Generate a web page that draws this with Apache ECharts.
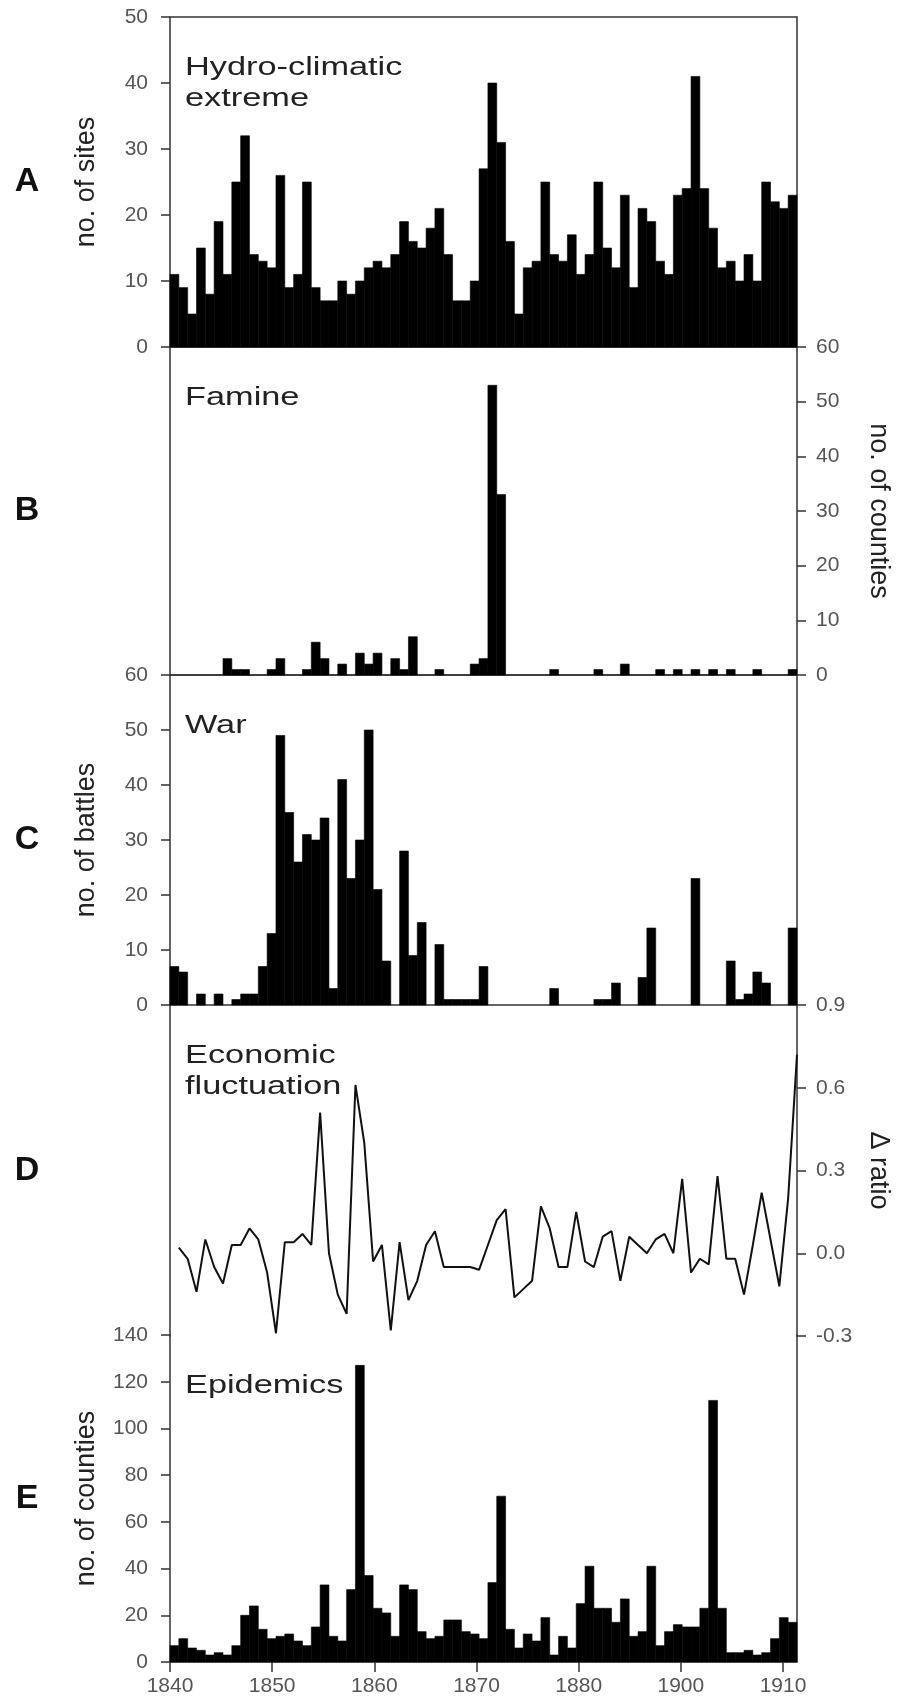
<!DOCTYPE html>
<html>
<head>
<meta charset="utf-8">
<title>Hydro-climatic extremes, famine, war, economy and epidemics, 1840-1910</title>
<script src="https://cdn.jsdelivr.net/npm/echarts@6.0.0/dist/echarts.min.js"></script>
<style>
  html, body { margin: 0; padding: 0; background: #fff; }
  #main { width: 910px; height: 1705px; }
</style>
</head>
<body>
<div id="main"></div>
<script>
// one bar per year, 1840 .. 1910; each bar spans [year, year + 1]
var startYear = 1840;
var endYear = 1911;

// A: no. of sites with hydro-climatic extremes
var hydro = [11, 9, 5, 15, 8, 19, 11, 25, 32, 14,
             13, 12, 26, 9, 11, 25, 9, 7, 7, 10,
             8, 10, 12, 13, 12, 14, 19, 16, 15, 18,
             21, 14, 7, 7, 10, 27, 40, 31, 16, 5,
             12, 13, 25, 14, 13, 17, 11, 14, 25, 15,
             12, 23, 9, 21, 19, 13, 11, 23, 24, 41,
             24, 18, 12, 13, 10, 14, 10, 25, 22, 21,
             23];
// B: no. of counties with famine
var famine = [0, 0, 0, 0, 0, 0, 3, 1, 1, 0,
              0, 1, 3, 0, 0, 1, 6, 3, 0, 2,
              0, 4, 2, 4, 0, 3, 1, 7, 0, 0,
              1, 0, 0, 0, 2, 3, 53, 33, 0, 0,
              0, 0, 0, 1, 0, 0, 0, 0, 1, 0,
              0, 2, 0, 0, 0, 1, 0, 1, 0, 1,
              0, 1, 0, 1, 0, 0, 1, 0, 0, 0,
              1];
// C: no. of battles
var war = [7, 6, 0, 2, 0, 2, 0, 1, 2, 2,
           7, 13, 49, 35, 26, 31, 30, 34, 3, 41,
           23, 30, 50, 21, 8, 0, 28, 9, 15, 0,
           11, 1, 1, 1, 1, 7, 0, 0, 0, 0,
           0, 0, 0, 3, 0, 0, 0, 0, 1, 1,
           4, 0, 0, 5, 14, 0, 0, 0, 0, 23,
           0, 0, 0, 8, 1, 2, 6, 4, 0, 0,
           14];
// D: economic fluctuation (delta ratio), one point per year from 1841 to 1911
var econ = [0.02, -0.02, -0.14, 0.05, -0.05, -0.11, 0.03, 0.03, 0.09, 0.05,
            -0.07, -0.29, 0.04, 0.04, 0.07, 0.03, 0.51, 0.00, -0.15, -0.22,
            0.61, 0.40, -0.03, 0.03, -0.28, 0.04, -0.17, -0.10, 0.03, 0.08,
            -0.05, -0.05, -0.05, -0.05, -0.06, 0.03, 0.12, 0.16, -0.16, -0.13,
            -0.10, 0.17, 0.09, -0.05, -0.05, 0.15, -0.03, -0.05, 0.06, 0.08,
            -0.10, 0.06, 0.03, 0.00, 0.05, 0.07, 0.00, 0.27, -0.07, -0.02,
            -0.04, 0.28, -0.02, -0.02, -0.15, 0.03, 0.22, 0.05, -0.12, 0.20,
            0.72];
// E: no. of counties with epidemics
var epidemic = [7, 10, 6, 5, 3, 4, 3, 7, 20, 24,
                14, 10, 11, 12, 9, 7, 15, 33, 11, 9,
                31, 127, 37, 23, 21, 11, 33, 31, 13, 10,
                11, 18, 18, 13, 12, 10, 34, 71, 14, 6,
                12, 9, 19, 3, 11, 6, 25, 41, 23, 23,
                17, 27, 11, 13, 41, 7, 13, 16, 15, 15,
                23, 112, 23, 4, 4, 5, 3, 4, 10, 19,
                17];

// printed tick labels of the time axis, and their spacing in bar widths
var tickLabels = ['1840', '1850', '1860', '1870', '1880', '1900', '1910'];
var tickStep = 11.57;

var years = [];
for (var y = startYear; y < endYear; y++) years.push(y);

function pairs(xs, vals) {
    return vals.map(function (v, i) { return [xs[i], v]; });
}
var econYears = years.map(function (y) { return y + 1; });
var tickValues = tickLabels.map(function (t, i) { return startYear + i * tickStep; });

// layout of the five stacked panels
var gridTops = [17, 347, 675, 1005, 1335];
var gridHeights = [330, 328, 330, 331, 327];
var panelLetters = ['A', 'B', 'C', 'D', 'E'];
var panelTitles = ['Hydro-climatic\nextreme', 'Famine', 'War', 'Economic\nfluctuation', 'Epidemics'];

var font = '"Liberation Sans", Arial, Helvetica, sans-serif';
var lineColor = '#333';
var labelStyle = {color: '#555', fontSize: 21, fontFamily: font};
var nameStyle = {color: '#222', fontSize: 27, fontFamily: font};
var tickLine = {color: lineColor, width: 1.5};

var chart = echarts.init(document.getElementById('main'));

// yearly bar drawn from the axis scales
function barItem(params, api) {
    var v = api.value(1);
    if (!v) return null;
    var base = api.coord([api.value(0), 0]);
    var top = api.coord([api.value(0) + 1, v]);
    return {
        type: 'rect',
        shape: {x: base[0], y: top[1], width: top[0] - base[0], height: base[1] - top[1]},
        style: {fill: '#000', stroke: '#000', lineWidth: 0.6}
    };
}

function hiddenX(gi) {
    return {type: 'value', gridIndex: gi, min: startYear, max: endYear, show: false};
}

function valueAxis(gi, pos, min, max, interval, name, extra) {
    var ax = {
        type: 'value', gridIndex: gi, position: pos,
        min: min, max: max, interval: interval,
        name: name, nameLocation: 'middle',
        nameGap: pos === 'left' ? 70 : 68,
        nameRotate: pos === 'left' ? 90 : -90,
        nameTextStyle: nameStyle,
        axisLine: {show: false, lineStyle: tickLine},
        axisTick: {show: true, length: 9, lineStyle: tickLine},
        axisLabel: Object.assign({margin: pos === 'left' ? 22 : 19}, labelStyle),
        splitLine: {show: false}
    };
    return Object.assign(ax, extra || {});
}

function lineOnly(gi, pos) {
    return {
        type: 'value', gridIndex: gi, position: pos, min: 0, max: 1,
        axisLine: {show: true, lineStyle: tickLine},
        axisTick: {show: false}, axisLabel: {show: false}, splitLine: {show: false}
    };
}

var graphics = [];
gridTops.forEach(function (top, i) {
    graphics.push({
        type: 'text', x: 27, y: top + gridHeights[i] / 2,
        style: {text: panelLetters[i], font: 'bold 34px ' + font, fill: '#111',
                align: 'center', verticalAlign: 'middle'}
    });
    graphics.push({
        type: 'text', x: 185, y: top + 35, scaleX: 1.32,
        style: {text: panelTitles[i], font: '26px ' + font, fill: '#222',
                lineHeight: 31, verticalAlign: 'top'}
    });
});

var option = {
    animation: false,
    backgroundColor: '#fff',
    grid: gridTops.map(function (top, i) {
        return {
            left: 170, width: 627, top: top, height: gridHeights[i],
            show: i < 3, borderColor: lineColor, borderWidth: 1.5,
            backgroundColor: 'transparent'
        };
    }),
    xAxis: [hiddenX(0), hiddenX(1), hiddenX(2), hiddenX(3), {
        type: 'value', gridIndex: 4, position: 'bottom',
        min: startYear, max: endYear,
        axisLine: {show: true, onZero: false, lineStyle: tickLine},
        axisTick: {show: true, length: 10, customValues: tickValues, lineStyle: tickLine},
        axisLabel: Object.assign({
            margin: 14,
            customValues: tickValues,
            formatter: function (v) {
                return tickLabels[Math.round((v - startYear) / tickStep)] || '';
            }
        }, labelStyle),
        splitLine: {show: false}
    }],
    yAxis: [
        valueAxis(0, 'left', 0, 50, 10, 'no. of sites'),
        valueAxis(1, 'right', 0, 60, 10, 'no. of counties'),
        valueAxis(2, 'left', 0, 60, 10, 'no. of battles'),
        valueAxis(3, 'right', -0.3, 0.9, 0.3, 'Δ ratio', {
            axisLine: {show: true, onZero: false, lineStyle: tickLine},
            axisLabel: Object.assign({margin: 19, formatter: function (v) { return v.toFixed(1); }}, labelStyle)
        }),
        lineOnly(3, 'left'),
        valueAxis(4, 'left', 0, 140, 20, 'no. of counties', {
            axisLine: {show: true, onZero: false, lineStyle: tickLine}
        }),
        lineOnly(4, 'right')
    ],
    graphic: graphics,
    series: [
        {type: 'custom', name: 'Hydro-climatic extreme', xAxisIndex: 0, yAxisIndex: 0,
         renderItem: barItem, data: pairs(years, hydro)},
        {type: 'custom', name: 'Famine', xAxisIndex: 1, yAxisIndex: 1,
         renderItem: barItem, data: pairs(years, famine)},
        {type: 'custom', name: 'War', xAxisIndex: 2, yAxisIndex: 2,
         renderItem: barItem, data: pairs(years, war)},
        {type: 'line', name: 'Economic fluctuation', xAxisIndex: 3, yAxisIndex: 3,
         showSymbol: false, symbol: 'none',
         lineStyle: {color: '#111', width: 2}, data: pairs(econYears, econ)},
        {type: 'custom', name: 'Epidemics', xAxisIndex: 4, yAxisIndex: 5,
         renderItem: barItem, data: pairs(years, epidemic)}
    ]
};

chart.setOption(option);
</script>
</body>
</html>
